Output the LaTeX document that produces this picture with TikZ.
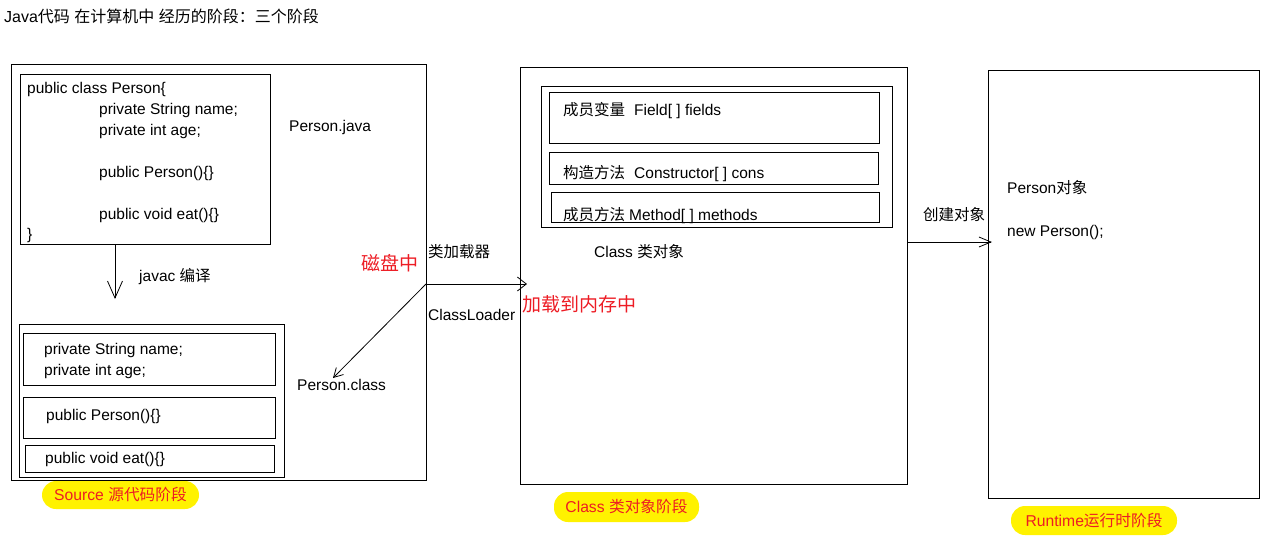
\documentclass[tikz,border=0pt]{standalone}
\usepackage{fontspec}
\setmainfont{Liberation Sans}
\newfontfamily\cjk{Noto Sans CJK SC}
\usetikzlibrary{arrows.meta}
\definecolor{myred}{RGB}{237,28,36}
\definecolor{myyellow}{RGB}{255,242,0}
\begin{document}
\begin{tikzpicture}[x=1pt,y=-1pt,
  box/.style={draw, line width=0.95pt, outer sep=0pt, inner sep=0pt, anchor=north west},
  txt/.style={anchor=base west, inner sep=0pt, font=\fontsize{15.5}{18}\selectfont},
  redtxt/.style={anchor=base west, inner sep=0pt, text=myred, font=\fontsize{19}{21}\selectfont\cjk},
  pill/.style={fill=myyellow, rounded corners=14pt, text=myred, inner sep=0pt, font=\fontsize{15.7}{18}\selectfont},
  conn/.style={line width=0.8pt}
]
\useasboundingbox (0,0) rectangle (1269,539);

% title
\node[txt, font=\fontsize{16}{18}\selectfont] (title) at (4,22) {Java{\cjk 代码} {\cjk 在计算机中} {\cjk 经历的阶段：三个阶段}};

% ---------- Source stage ----------
\node[box, minimum width=415pt, minimum height=416pt] (src) at (11,64) {};
\node[box, minimum width=250pt, minimum height=170pt] (code) at (20,74) {};
\node[txt] (c1) at (27,93) {public class Person\{};
\node[txt] (c2) at (99,114) {private String name;};
\node[txt] (c3) at (99,135) {private int age;};
\node[txt] (c4) at (99,177) {public Person()\{\}};
\node[txt] (c5) at (99,219) {public void eat()\{\}};
\node[txt] (c6) at (27,239) {\}};
\node[txt] (pjava) at (289,131) {Person.java};

\coordinate (javacEnd) at (115,299);
\draw[conn, -{Straight Barb[length=17pt,width=15pt]}] (javacEnd |- code.south) -- (javacEnd);
\node[txt] (javac) at (139,281) {javac {\cjk 编译}};

\node[box, minimum width=265pt, minimum height=153pt] (bc) at (19,324) {};
\node[box, minimum width=252pt, minimum height=52pt] (bc1) at (23,333) {};
\node[box, minimum width=252pt, minimum height=41pt] (bc2) at (23,397) {};
\node[box, minimum width=249pt, minimum height=27pt] (bc3) at (25,445) {};
\node[txt] (b1) at (44,354) {private String name;};
\node[txt] (b2) at (44,375) {private int age;};
\node[txt] (b3) at (46,420) {public Person()\{\}};
\node[txt] (b4) at (45,463) {public void eat()\{\}};
\node[txt] (pclass) at (297,390) {Person.class};

\node[pill, minimum width=157pt, minimum height=28pt] (lsrc) at (120.5,495) {Source {\cjk 源代码阶段}};

% ---------- ClassLoader ----------
\coordinate (disk) at (426,284);
\coordinate (memEnd) at (527,284);
\coordinate (clsEnd) at (333,378);
\draw[conn, -{Straight Barb[length=9pt,width=14pt]}] (disk) -- (memEnd);
\draw[conn, -{Straight Barb[length=9pt,width=10pt]}] (disk) -- (clsEnd);
\node[txt] (loader) at (428,257) {\cjk 类加载器};
\node[txt] (cl) at (428,320) {ClassLoader};
\node[redtxt] (disktxt) at (361,270) {磁盘中};
\node[redtxt] (memtxt) at (522,311) {加载到内存中};

% ---------- Class stage ----------
\node[box, minimum width=387pt, minimum height=417pt] (cls) at (520,67) {};
\node[box, minimum width=351pt, minimum height=141pt] (clsin) at (541,86) {};
\node[box, minimum width=330pt, minimum height=51pt] (f1) at (549,92) {};
\node[box, minimum width=329pt, minimum height=32pt] (f2) at (549,152) {};
\node[box, minimum width=328pt, minimum height=30pt] (f3) at (551,192) {};
\node[txt] (t1) at (563,115) {{\cjk 成员变量}\hspace{9pt}Field[ ] fields};
\node[txt] (t2) at (563,178) {{\cjk 构造方法}\hspace{9pt}Constructor[ ] cons};
\node[txt] (t3) at (563,220) {{\cjk 成员方法}\hspace{4pt}Method[ ] methods};
\node[txt] (clsobj) at (594,257) {Class {\cjk 类对象}};

\node[pill, minimum width=145pt, minimum height=30pt] (lcls) at (626.5,507) {Class {\cjk 类对象阶段}};

% ---------- Runtime stage ----------
\node[box, minimum width=271pt, minimum height=428pt] (rt) at (988,70) {};
\node[txt] (pobj) at (1007,193) {Person{\cjk 对象}};
\node[txt] (newp) at (1007,236) {new Person();};
\coordinate (objEnd) at (992,242);
\draw[conn, -{Straight Barb[length=12pt,width=10pt]}] (objEnd -| cls.east) -- (objEnd);
\node[txt] (create) at (923,220) {\cjk 创建对象};

\node[pill, minimum width=166pt, minimum height=29pt] (lrt) at (1094,520.5) {Runtime{\cjk 运行时阶段}};
\end{tikzpicture}
\end{document}
